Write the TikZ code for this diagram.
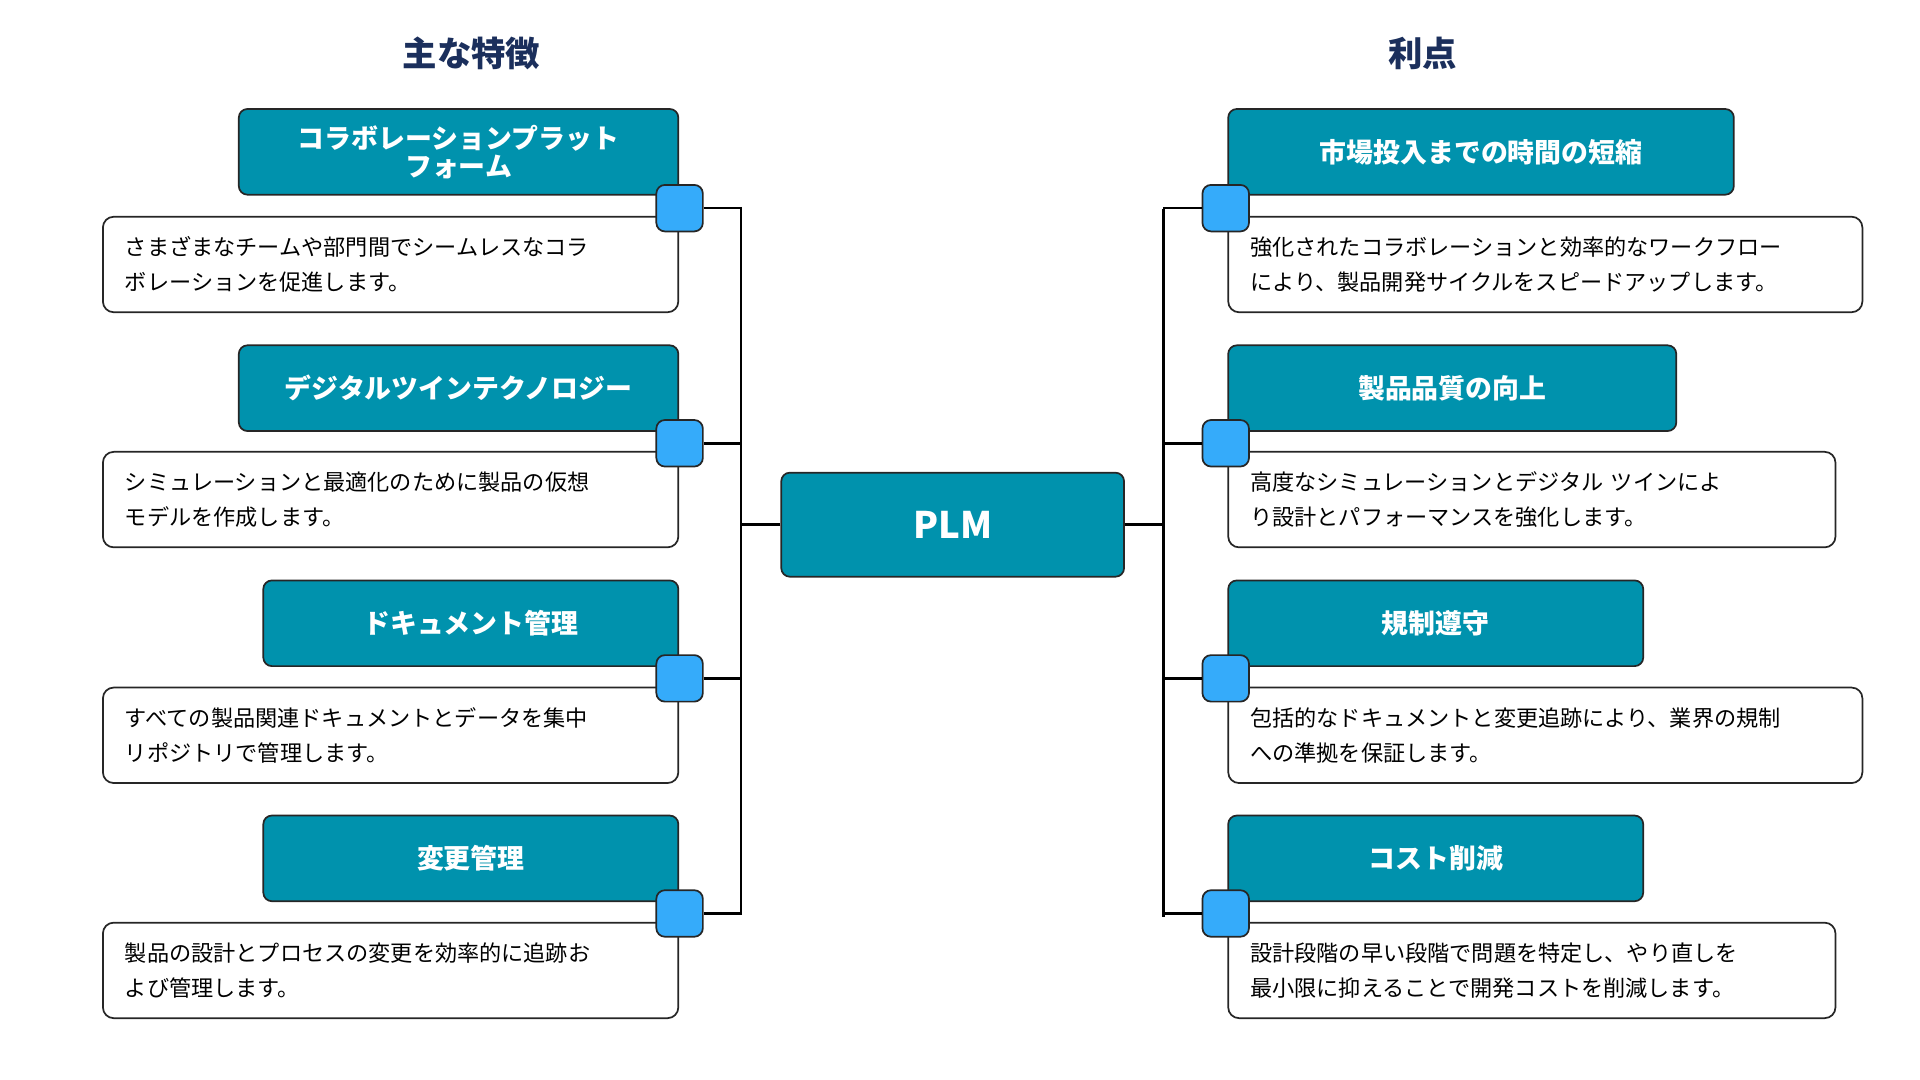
\documentclass[tikz,border=0pt]{standalone}
\usepackage{fontspec}
\setmainfont{Noto Sans CJK JP}
\usetikzlibrary{positioning}
\definecolor{tealbox}{HTML}{0092AD}
\definecolor{knob}{HTML}{35ABFA}
\definecolor{navy}{HTML}{1B2F5C}

\begin{document}
\begin{tikzpicture}[x=0.02cm, y=-0.02cm,
    head/.style={
        rectangle, draw=black!85, fill=tealbox, rounded corners=4pt, line width=0.8pt,
        minimum height=1.4cm, text=white, font=\fontsize{12.5}{15}\selectfont\bfseries,
        align=center, inner sep=2pt
    },
    desc/.style={
        rectangle, draw=black!85, fill=white, rounded corners=5pt, line width=0.8pt,
        minimum height=1.56cm, font=\fontsize{10.3}{16.5}\selectfont,
        align=left, inner xsep=0.36cm
    },
    sq/.style={rectangle, draw=black!85, fill=knob, rounded corners=4pt, line width=0.8pt,
        minimum size=0.76cm, inner sep=0pt},
    title/.style={font=\fontsize{16}{19}\selectfont\bfseries, text=navy},
    link/.style={draw=black, line width=1.2pt}
]
\useasboundingbox (0,0) rectangle (1568,882);

% Titles
\node[title] (tfeat) at (385,44) {主な特徴};
\node[title] (tbene) at (1162,44) {利点};

% Centre
\node[head, minimum width=5.6cm, minimum height=1.7cm, font=\fontsize{17}{20}\selectfont\bfseries] (plm) at (778,428.5) {PLM};

% Features (left)
\node[head, minimum width=7.18cm] (f1) at (374.5,124) {コラボレーションプラット\\[-2pt]フォーム};
\node[desc, text width=8.68cm] (fd1) at (319,216) {さまざまなチームや部門間でシームレスなコラ\\ボレーションを促進します。};
\node[head, minimum width=7.18cm] (f2) at (374.5,317) {デジタルツインテクノロジー};
\node[desc, text width=8.68cm] (fd2) at (319,408) {シミュレーションと最適化のために製品の仮想\\モデルを作成します。};
\node[head, minimum width=6.78cm] (f3) at (384.5,509) {ドキュメント管理};
\node[desc, text width=8.68cm] (fd3) at (319,600.5) {すべての製品関連ドキュメントとデータを集中\\リポジトリで管理します。};
\node[head, minimum width=6.78cm] (f4) at (384.5,701) {変更管理};
\node[desc, text width=8.68cm] (fd4) at (319,792.5) {製品の設計とプロセスの変更を効率的に追跡お\\よび管理します。};

% Benefits (right)
\node[head, minimum width=8.26cm] (b1) at (1209.5,124) {市場投入までの時間の短縮};
\node[desc, text width=9.64cm] (bd1) at (1262,216) {強化されたコラボレーションと効率的なワークフロー\\により、製品開発サイクルをスピードアップします。};
\node[head, minimum width=7.32cm] (b2) at (1186,317) {製品品質の向上};
\node[desc, text width=9.2cm] (bd2) at (1251,408) {高度なシミュレーションとデジタル ツインによ\\り設計とパフォーマンスを強化します。};
\node[head, minimum width=6.78cm] (b3) at (1172.5,509) {規制遵守};
\node[desc, text width=9.64cm] (bd3) at (1262,600.5) {包括的なドキュメントと変更追跡により、業界の規制\\への準拠を保証します。};
\node[head, minimum width=6.78cm] (b4) at (1172.5,701) {コスト削減};
\node[desc, text width=9.2cm] (bd4) at (1251,792.5) {設計段階の早い段階で問題を特定し、やり直しを\\最小限に抑えることで開発コストを削減します。};

% Spine joints
\coordinate (lj1) at (605,169);
\coordinate (lj4) at (605,747);
\coordinate (rj1) at (950,171);
\coordinate (rj4) at (950,749);

% Knobs
\foreach \i/\y in {1/170,2/362,3/554,4/746} {
    \node[sq] (lk\i) at (555,\y) {};
    \node[sq] (rk\i) at (1001,\y) {};
}

% Connectors
\draw[link] (lj1) -- (lj4);
\draw[link] (rj1) -- (rj4);
\draw[link] (plm.west) -- (plm.west -| lj1);
\draw[link] (plm.east) -- (plm.east -| rj1);
\foreach \i in {1,2,3,4} {
    \draw[link] (lk\i.east) -- (lk\i.east -| lj1);
    \draw[link] (rk\i.west) -- (rk\i.west -| rj1);
}
\end{tikzpicture}
\end{document}
